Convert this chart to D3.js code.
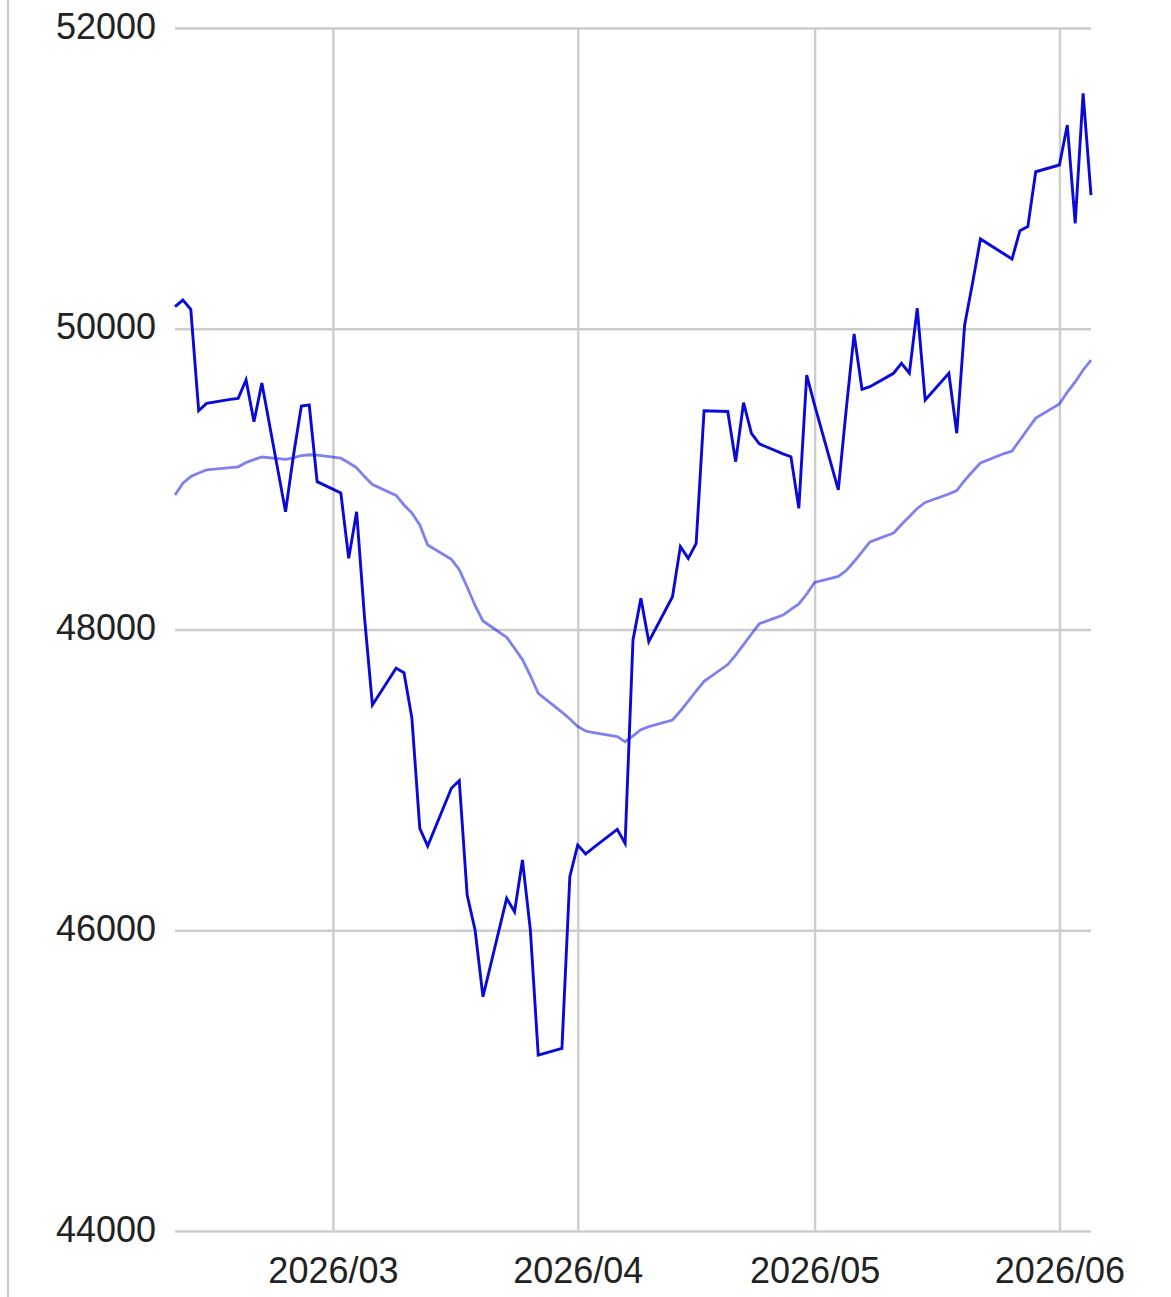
<!DOCTYPE html>
<html>
<head>
<meta charset="utf-8">
<script src="https://cdn.jsdelivr.net/npm/d3@7"></script>
<style>
  html, body { margin: 0; padding: 0; background: #fff; }
  svg { display: block; }
</style>
</head>
<body>
<svg id="chart" width="1171" height="1297"></svg>
<script>
const dates = [
  "2026-02-09","2026-02-10","2026-02-11","2026-02-12","2026-02-13","2026-02-16","2026-02-17","2026-02-18","2026-02-19","2026-02-20","2026-02-23","2026-02-24","2026-02-25","2026-02-26","2026-02-27",
  "2026-03-02","2026-03-03","2026-03-04","2026-03-05","2026-03-06","2026-03-09","2026-03-10","2026-03-11","2026-03-12","2026-03-13","2026-03-16","2026-03-17","2026-03-18","2026-03-19","2026-03-20","2026-03-23","2026-03-24","2026-03-25","2026-03-26","2026-03-27","2026-03-30","2026-03-31",
  "2026-04-01","2026-04-02","2026-04-03","2026-04-06","2026-04-07","2026-04-08","2026-04-09","2026-04-10","2026-04-13","2026-04-14","2026-04-15","2026-04-16","2026-04-17","2026-04-20","2026-04-21","2026-04-22","2026-04-23","2026-04-24","2026-04-27","2026-04-28","2026-04-29","2026-04-30",
  "2026-05-01","2026-05-04","2026-05-05","2026-05-06","2026-05-07","2026-05-08","2026-05-11","2026-05-12","2026-05-13","2026-05-14","2026-05-15","2026-05-18","2026-05-19","2026-05-20","2026-05-21","2026-05-22","2026-05-25","2026-05-26","2026-05-27","2026-05-28","2026-05-29",
  "2026-06-01","2026-06-02","2026-06-03","2026-06-04","2026-06-05"
];
const closeValues = [
  50147, 50191, 50129, 49455, 49504, 49530, 49537, 49659, 49382, 49639, 48783, 49157, 49486, 49493, 48983,
  48908, 48473, 48783, 48080, 47498, 47742, 47713, 47411, 46678, 46560, 46944, 46995, 46234, 46002, 45558, 46212, 46123, 46467, 46002, 45170, 45215, 46356,
  46567, 46507, 46550, 46671, 46578, 47930, 48207, 47919, 48218, 48551, 48473, 48573, 49455, 49450, 49116, 49508, 49305, 49234, 49168, 49149, 48806, 49692,
  49492, 48928, 49462, 49965, 49597, 49615, 49704, 49770, 49704, 50136, 49526, 49704, 49305, 50025, 50304, 50597, 50497, 50464, 50652, 50679, 51044,
  51089, 51355, 50701, 51566, 50889
];
const maValues = [
  48894, 48973, 49017, 49041, 49061, 49076, 49082, 49111, 49130, 49147, 49132, 49142, 49157, 49162, 49160,
  49139, 49109, 49075, 49017, 48964, 48892, 48828, 48775, 48695, 48562, 48466, 48398, 48283, 48160, 48057, 47948, 47875, 47800, 47693, 47576, 47451, 47405,
  47355, 47325, 47315, 47288, 47254, 47292, 47334, 47354, 47398, 47458, 47524, 47591, 47655, 47767, 47830, 47900, 47970, 48038, 48096, 48134, 48170, 48236,
  48313, 48353, 48392, 48452, 48517, 48582, 48642, 48698, 48751, 48805, 48845, 48901, 48924, 48991, 49051, 49107, 49170, 49187, 49260, 49333, 49406,
  49500, 49579, 49646, 49726, 49792
];
const yTicks = [44000, 46000, 48000, 50000, 52000];
const xTicks = ["2026-03-01", "2026-04-01", "2026-05-01", "2026-06-01"];

(function () {
  const parse = d3.utcParse("%Y-%m-%d");
  const fmt = d3.utcFormat("%Y/%m");
  const data = dates.map((d, i) => ({ date: parse(d), close: closeValues[i], ma: maValues[i] }));

  const svg = d3.select("#chart");
  const H = 1297;
  const pLeft = 175, pRight = 1091, pTop = 28, pBottom = 1231;

  const x = d3.scaleUtc().domain(d3.extent(data, d => d.date)).range([pLeft, pRight]);
  const y = d3.scaleLinear().domain([44000, 52000]).range([pBottom, pTop]);

  const font = "'Liberation Sans', Arial, Helvetica, sans-serif";

  // outer left border
  svg.append("line")
    .attr("x1", 8).attr("x2", 8).attr("y1", 0).attr("y2", H)
    .attr("stroke", "#c8c8c8").attr("stroke-width", 2);

  // horizontal gridlines + y labels
  const yAxis = d3.axisLeft(y).tickValues(yTicks).tickSize(-(pRight - pLeft)).tickFormat(d3.format("d"));
  const gy = svg.append("g").attr("transform", `translate(${pLeft},0)`).call(yAxis);
  gy.select(".domain").remove();
  gy.selectAll(".tick line").attr("stroke", "#cccccc").attr("stroke-width", 2.4);
  gy.selectAll(".tick text")
    .attr("x", -19).attr("dy", null).attr("y", 10)
    .attr("fill", "#222").attr("font-size", 36).attr("font-family", font)
    .attr("text-anchor", "end");

  // vertical gridlines + x labels
  const xAxis = d3.axisBottom(x).tickValues(xTicks.map(parse)).tickSize(-(pBottom - pTop)).tickFormat(fmt);
  const gx = svg.append("g").attr("transform", `translate(0,${pBottom})`).call(xAxis);
  gx.select(".domain").remove();
  gx.selectAll(".tick line").attr("stroke", "#cccccc").attr("stroke-width", 2.4);
  gx.selectAll(".tick text")
    .attr("y", 52).attr("dy", null)
    .attr("fill", "#222").attr("font-size", 36).attr("font-family", font)
    .attr("text-anchor", "middle");

  // moving average line
  const maLine = d3.line().x(d => x(d.date)).y(d => y(d.ma));
  svg.append("path").datum(data)
    .attr("d", maLine)
    .attr("fill", "none")
    .attr("stroke", "#0000dd").attr("stroke-opacity", 0.5)
    .attr("stroke-width", 2.8);

  // close line
  const closeLine = d3.line().x(d => x(d.date)).y(d => y(d.close));
  svg.append("path").datum(data)
    .attr("d", closeLine)
    .attr("fill", "none")
    .attr("stroke", "#0a0ad8")
    .attr("stroke-width", 2.9)
    .attr("stroke-linejoin", "miter");
})();
</script>
</body>
</html>
